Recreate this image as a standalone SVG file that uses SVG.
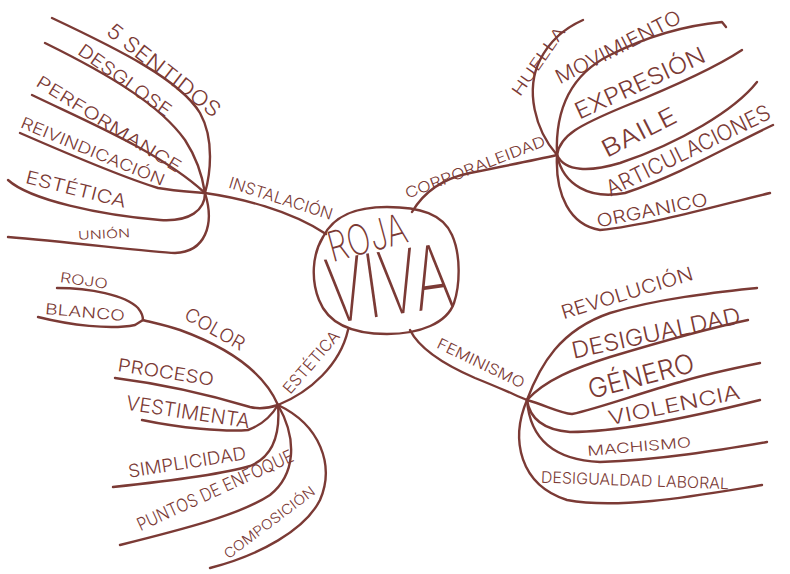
<svg xmlns="http://www.w3.org/2000/svg" width="790" height="574" viewBox="0 0 790 574">
<style>
.l{fill:none;stroke:#7b3a35;stroke-width:2.4;stroke-linecap:round;stroke-linejoin:round}
.t{fill:#7b3a35;font-family:Inter,"Liberation Sans","DejaVu Sans",sans-serif;font-weight:300;text-anchor:middle;dominant-baseline:central}
.big{font-weight:200}
</style>
<rect width="790" height="574" fill="#ffffff"/>
<g id="connectors">
<path class="l" d="M205,193 C240,198 290,210 326,234"/>
<path class="l" d="M52,18 C120,50 180,80 200,113 C215,140 210,175 205,193"/>
<path class="l" d="M45,43 C110,75 160,105 185,140 C198,160 203,180 205,193"/>
<path class="l" d="M32,95 C90,123 160,152 205,193"/>
<path class="l" d="M20,133 C75,157 125,178 158,188 C175,191 195,192 205,193"/>
<path class="l" d="M8,180 C30,200 100,215 160,220 C190,222 205,210 205,193"/>
<path class="l" d="M8,237 C70,242 150,252 175,253 C205,252 215,225 205,193"/>
<path class="l" d="M412,212 C425,190 445,178 470,173 C505,166 535,160 557,155"/>
<path class="l" d="M557,155 C535,130 525,90 540,60 C550,40 565,28 583,20"/>
<path class="l" d="M557,155 C555,110 570,75 610,55 C650,35 690,25 722,22 L726,27"/>
<path class="l" d="M557,155 C560,135 580,125 623,107 C670,88 715,68 742,50"/>
<path class="l" d="M557,155 C565,172 590,172 620,163 C680,143 735,110 757,82"/>
<path class="l" d="M557,155 C563,185 590,200 625,193 C680,175 730,145 773,125"/>
<path class="l" d="M557,155 C555,195 570,225 600,230 C650,225 720,205 770,193"/>
<path class="l" d="M348,330 C340,365 310,392 278,405"/>
<path class="l" d="M278,405 C265,375 235,350 180,330 C165,325 150,322 143,320"/>
<path class="l" d="M57,288 C90,288 125,295 138,308 C142,313 143,318 143,320"/>
<path class="l" d="M38,317 C70,325 110,330 135,325 L143,320"/>
<path class="l" d="M115,378 C170,385 220,398 250,407 C262,410 272,407 278,405"/>
<path class="l" d="M142,420 C180,428 225,432 248,430 C262,425 272,415 278,405"/>
<path class="l" d="M113,487 C160,482 220,475 250,466 C275,456 280,430 278,405"/>
<path class="l" d="M120,545 C180,530 240,515 270,495 C295,475 298,440 278,405"/>
<path class="l" d="M210,568 C260,555 305,530 320,500 C335,465 320,425 278,405"/>
<path class="l" d="M410,330 C420,350 445,365 475,378 C500,388 515,395 527,400"/>
<path class="l" d="M527,400 C540,365 560,330 610,313 C660,298 720,292 757,288"/>
<path class="l" d="M527,400 C545,380 575,368 610,357 C660,342 710,328 748,320"/>
<path class="l" d="M527,400 C545,405 560,413 572,414 C600,408 640,393 680,382 C710,373 740,367 760,363"/>
<path class="l" d="M527,400 C530,420 545,430 570,432 C620,432 700,415 760,400"/>
<path class="l" d="M527,400 C530,440 555,460 600,462 C660,460 720,450 767,442"/>
<path class="l" d="M527,400 C510,440 520,485 567,500 C620,510 700,495 762,485"/>
</g>
<g id="center">
<path class="l" d="M323,237 C335,213 360,207 387,207 C420,207 443,214 452,235 C461,255 460,285 454,303 C447,323 420,334 387,334 C355,334 329,326 319,300 C311,280 312,255 323,237 Z"/>
<text class="t big" transform="translate(367,237) rotate(-15)" font-size="42" textLength="80" lengthAdjust="spacingAndGlyphs">ROJA</text>
<text class="t big" transform="translate(389,283) rotate(-8)" font-size="88" textLength="126" lengthAdjust="spacingAndGlyphs">VIVA</text>
</g>
<g id="instalacion"><text class="t" transform="translate(281,198) rotate(17.5)" font-size="16" textLength="108" lengthAdjust="spacingAndGlyphs">INSTALACIÓN</text></g>
<g id="sentidos"><text class="t" transform="translate(164,70) rotate(38)" font-size="21" textLength="138" lengthAdjust="spacingAndGlyphs">5 SENTIDOS</text></g>
<g id="desglose"><text class="t" transform="translate(125,80) rotate(35.6)" font-size="18" textLength="110" lengthAdjust="spacingAndGlyphs">DESGLOSE</text></g>
<g id="performance"><text class="t" transform="translate(109,124) rotate(31.8)" font-size="17" textLength="167" lengthAdjust="spacingAndGlyphs">PERFORMANCE</text></g>
<g id="reivindicacion"><text class="t" transform="translate(93,151) rotate(22.5)" font-size="16" textLength="154" lengthAdjust="spacingAndGlyphs">REIVINDICACIÓN</text></g>
<g id="estetica-inst"><text class="t" transform="translate(76,189) rotate(14)" font-size="18" textLength="103" lengthAdjust="spacingAndGlyphs">ESTÉTICA</text></g>
<g id="union"><text class="t" transform="translate(104,234) rotate(-3)" font-size="12" textLength="52" lengthAdjust="spacingAndGlyphs">UNIÓN</text></g>
<g id="corporaleidad"><text class="t" transform="translate(475,167) rotate(-21)" font-size="15" textLength="149" lengthAdjust="spacingAndGlyphs">CORPORALEIDAD</text></g>
<g id="huella"><text class="t" transform="translate(538,61) rotate(-55)" font-size="16" textLength="80" lengthAdjust="spacingAndGlyphs">HUELLA</text></g>
<g id="movimiento"><text class="t" transform="translate(618,47) rotate(-27)" font-size="20" textLength="138" lengthAdjust="spacingAndGlyphs">MOVIMIENTO</text></g>
<g id="expresion"><text class="t" transform="translate(640,83) rotate(-24.7)" font-size="23" textLength="141" lengthAdjust="spacingAndGlyphs">EXPRESIÓN</text></g>
<g id="baile"><text class="t" transform="translate(639,132) rotate(-27)" font-size="24" textLength="81" lengthAdjust="spacingAndGlyphs">BAILE</text></g>
<g id="articulaciones"><text class="t" transform="translate(688,150) rotate(-26)" font-size="22" textLength="180" lengthAdjust="spacingAndGlyphs">ARTICULACIONES</text></g>
<g id="organico"><text class="t" transform="translate(652,210) rotate(-11.4)" font-size="18" textLength="113" lengthAdjust="spacingAndGlyphs">ORGANICO</text></g>
<g id="estetica"><text class="t" transform="translate(311,362) rotate(-49)" font-size="16" textLength="77" lengthAdjust="spacingAndGlyphs">ESTÉTICA</text></g>
<g id="color"><text class="t" transform="translate(215,329) rotate(29.6)" font-size="19" textLength="66" lengthAdjust="spacingAndGlyphs">COLOR</text></g>
<g id="rojo"><text class="t" transform="translate(84,280) rotate(8)" font-size="14" textLength="48" lengthAdjust="spacingAndGlyphs">ROJO</text></g>
<g id="blanco"><text class="t" transform="translate(85,312) rotate(5)" font-size="15" textLength="80" lengthAdjust="spacingAndGlyphs">BLANCO</text></g>
<g id="proceso"><text class="t" transform="translate(166,372) rotate(8.7)" font-size="18" textLength="97" lengthAdjust="spacingAndGlyphs">PROCESO</text></g>
<g id="vestimenta"><text class="t" transform="translate(188,412) rotate(8.6)" font-size="20" textLength="125" lengthAdjust="spacingAndGlyphs">VESTIMENTA</text></g>
<g id="simplicidad"><text class="t" transform="translate(187,462) rotate(-9)" font-size="18" textLength="119" lengthAdjust="spacingAndGlyphs">SIMPLICIDAD</text></g>
<g id="puntos"><text class="t" transform="translate(215,490) rotate(-24.6)" font-size="18" textLength="170" lengthAdjust="spacingAndGlyphs">PUNTOS DE ENFOQUE</text></g>
<g id="composicion"><text class="t" transform="translate(269,522) rotate(-37)" font-size="14" textLength="110" lengthAdjust="spacingAndGlyphs">COMPOSICIÓN</text></g>
<g id="feminismo"><text class="t" transform="translate(481,363) rotate(25.7)" font-size="15" textLength="95" lengthAdjust="spacingAndGlyphs">FEMINISMO</text></g>
<g id="revolucion"><text class="t" transform="translate(627,293) rotate(-17)" font-size="19" textLength="137" lengthAdjust="spacingAndGlyphs">REVOLUCIÓN</text></g>
<g id="desigualdad"><text class="t" transform="translate(656,333) rotate(-12)" font-size="23" textLength="172" lengthAdjust="spacingAndGlyphs">DESIGUALDAD</text></g>
<g id="genero"><text class="t" transform="translate(641,376) rotate(-14.6)" font-size="27" textLength="109" lengthAdjust="spacingAndGlyphs">GÉNERO</text></g>
<g id="violencia"><text class="t" transform="translate(674,405) rotate(-11.5)" font-size="20" textLength="134" lengthAdjust="spacingAndGlyphs">VIOLENCIA</text></g>
<g id="machismo"><text class="t" transform="translate(639,446) rotate(-5)" font-size="14" textLength="104" lengthAdjust="spacingAndGlyphs">MACHISMO</text></g>
<g id="desigualdad-laboral"><text class="t" transform="translate(635,480) rotate(2)" font-size="16" textLength="188" lengthAdjust="spacingAndGlyphs">DESIGUALDAD LABORAL</text></g>
</svg>
